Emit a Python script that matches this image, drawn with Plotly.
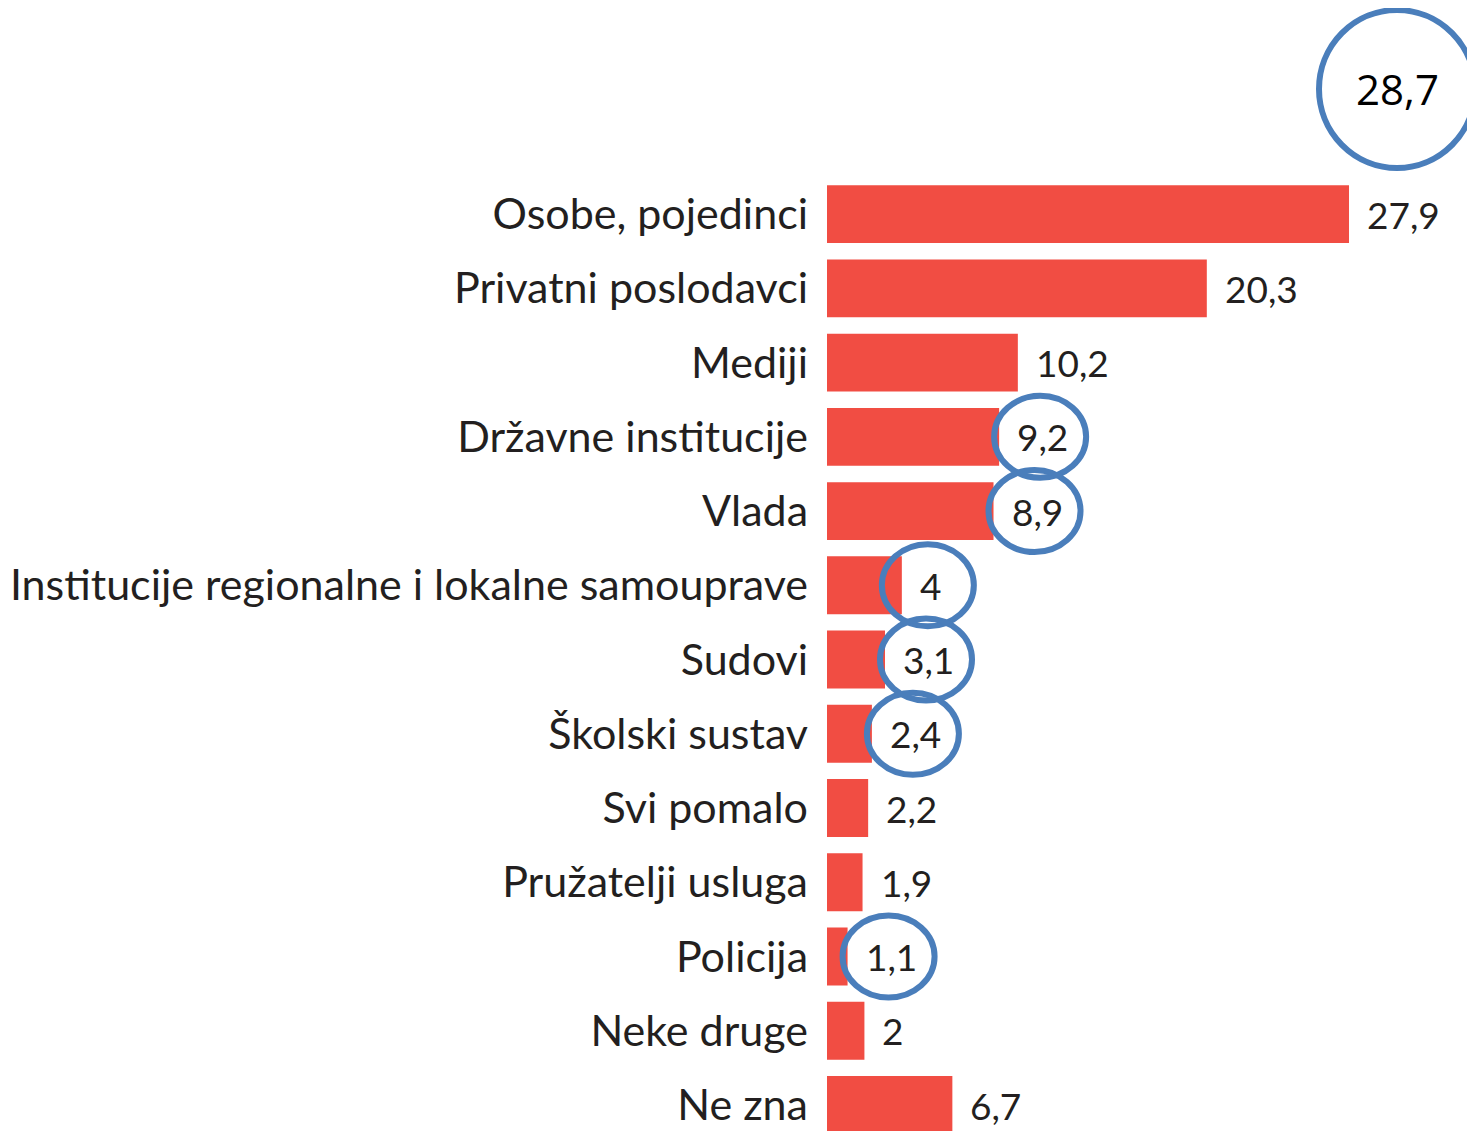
import plotly.graph_objects as go

categories = ["Osobe, pojedinci", "Privatni poslodavci", "Mediji", "Državne institucije",
              "Vlada", "Institucije regionalne i lokalne samouprave", "Sudovi",
              "Školski sustav", "Svi pomalo", "Pružatelji usluga", "Policija",
              "Neke druge", "Ne zna"]
values = [27.9, 20.3, 10.2, 9.2, 8.9, 4, 3.1, 2.4, 2.2, 1.9, 1.1, 2, 6.7]
circled = ["Državne institucije", "Vlada", "Institucije regionalne i lokalne samouprave",
           "Sudovi", "Školski sustav", "Policija"]
highlight_value = 28.7

BAR = "#F14D43"
RING = "#4A7EBB"
TXT = "#231f20"
FONT = "Lato"

def fmt(v):
    return f"{v:g}".replace(".", ",")

PAD = 8  # page body margin
W, H = 1475 - PAD, 1131 - PAD
L, T = 827 - PAD, 177 - PAD
plot_w = W - L
plot_h = H - T

fig = go.Figure(go.Bar(
    x=values, y=categories, orientation="h", width=0.78,
    marker=dict(color=BAR, line=dict(width=0)), hoverinfo="skip"))

shift = 16
annotations = []
shapes = []
for c, v in zip(categories, values):
    t = fmt(v)
    annotations.append(dict(x=v, y=c, xref="x", yref="y", text=t, showarrow=False,
                            xanchor="left", yanchor="middle", xshift=shift,
                            font=dict(family=FONT, size=37, color=TXT)))
    if c in circled:
        w = 20 * sum(ch.isdigit() for ch in t) + 10 * t.count(",")
        off = shift + w / 2
        shapes.append(dict(type="circle", xref="x", yref="y", xsizemode="pixel",
                           ysizemode="pixel", xanchor=v, yanchor=c,
                           x0=off - 46, x1=off + 46, y0=-41, y1=41,
                           line=dict(color=RING, width=6)))

# big highlighted circle at the top right
cx = (1397 - 827) / plot_w
cy = (1131 - 89) / plot_h
shapes.append(dict(type="circle", xref="paper", yref="paper", xsizemode="pixel",
                   ysizemode="pixel", xanchor=cx, yanchor=cy,
                   x0=-78, x1=78, y0=-79, y1=79, line=dict(color=RING, width=6)))
annotations.append(dict(x=cx, y=cy, xref="paper", yref="paper", text=fmt(highlight_value),
                        showarrow=False, xanchor="center", yanchor="middle",
                        font=dict(family="Open Sans", size=42, color="#000000")))

fig.update_layout(
    width=W, height=H, margin=dict(l=L, r=0, t=T, b=0),
    paper_bgcolor="white", plot_bgcolor="white", showlegend=False,
    xaxis=dict(range=[0, plot_w / 18.71], visible=False, showgrid=False, zeroline=False),
    yaxis=dict(range=[12.35, -0.5], showgrid=False, zeroline=False, ticks="",
               showline=False, ticklabelstandoff=18,
               tickfont=dict(family=FONT, size=43, color=TXT)),
    shapes=shapes, annotations=annotations, bargap=0.22,
)
fig.write_html("out.html")
